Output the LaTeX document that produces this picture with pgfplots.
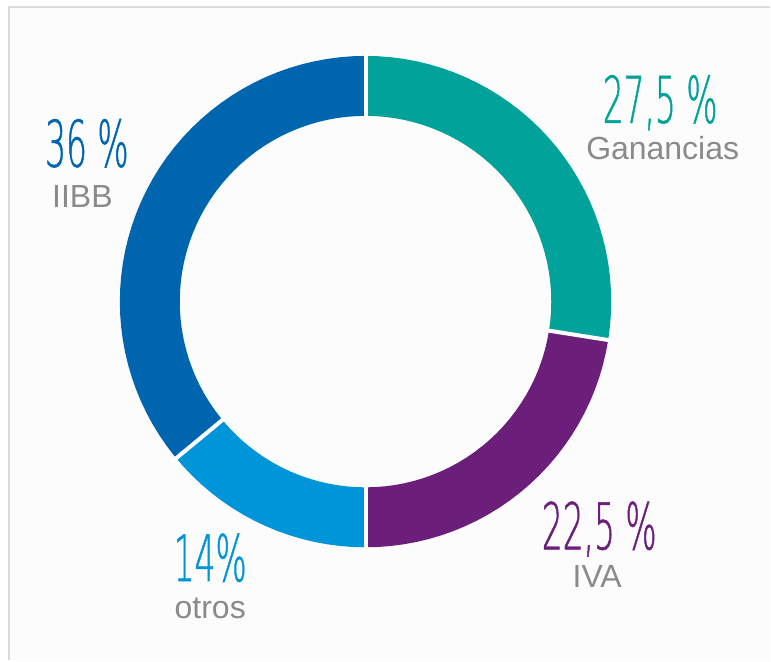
\documentclass[border=0pt]{standalone}
\usepackage{pgfplots}
\pgfplotsset{compat=1.18}
\usepackage{fontspec}
\setmainfont{Liberation Sans}
\newfontfamily\cond[FakeStretch=0.51, FakeBold=0.7]{DejaVu Sans ExtraLight}
\definecolor{cIIBB}{HTML}{0065AF}
\definecolor{cGan}{HTML}{00A29A}
\definecolor{cIVA}{HTML}{6B1F7B}
\definecolor{cOtros}{HTML}{0095D8}
\definecolor{cGray}{HTML}{8A8A8A}
\definecolor{cFrame}{HTML}{DADADA}
\begin{document}
\begin{tikzpicture}
\begin{axis}[
  scale only axis, width=771pt, height=661pt,
  xmin=-366, xmax=405, ymin=-359, ymax=302,
  hide axis, clip=false, data cs=polar,
]
\fill[white] (axis cs:-366,-359) rectangle (axis cs:405,302);
\fill[black!1] (axis cs:-357,-359) rectangle (axis cs:405,295);
\draw[cFrame, line width=2pt] (axis cs:-357,-359) -- (axis cs:-357,295) -- (axis cs:405,295);
% Ganancias 27.5 %
\addplot[cGan, line width=60pt, line cap=butt, no markers] coordinates {
(90,216) (87,216) (84,216) (81,216) (78,216) (75,216) (72,216) (69,216) (66,216) (63,216)
(60,216) (57,216) (54,216) (51,216) (48,216) (45,216) (42,216) (39,216) (36,216) (33,216)
(30,216) (27,216) (24,216) (21,216) (18,216) (15,216) (12,216) (9,216) (6,216) (3,216)
(0,216) (-3,216) (-6,216) (-9,216)};
% IVA 22.5 %
\addplot[cIVA, line width=60pt, line cap=butt, no markers] coordinates {
(-9,216) (-12,216) (-15,216) (-18,216) (-21,216) (-24,216) (-27,216) (-30,216) (-33,216)
(-36,216) (-39,216) (-42,216) (-45,216) (-48,216) (-51,216) (-54,216) (-57,216) (-60,216)
(-63,216) (-66,216) (-69,216) (-72,216) (-75,216) (-78,216) (-81,216) (-84,216) (-87,216) (-90,216)};
% otros 14 %
\addplot[cOtros, line width=60pt, line cap=butt, no markers] coordinates {
(-90,216) (-93,216) (-96,216) (-99,216) (-102,216) (-105,216) (-108,216) (-111,216) (-114,216)
(-117,216) (-120,216) (-123,216) (-126,216) (-129,216) (-132,216) (-135,216) (-138,216) (-140.4,216)};
% IIBB 36 %
\addplot[cIIBB, line width=60pt, line cap=butt, no markers] coordinates {
(-140.4,216) (-141,216) (-144,216) (-147,216) (-150,216) (-153,216) (-156,216) (-159,216)
(-162,216) (-165,216) (-168,216) (-171,216) (-174,216) (-177,216) (-180,216) (-183,216)
(-186,216) (-189,216) (-192,216) (-195,216) (-198,216) (-201,216) (-204,216) (-207,216)
(-210,216) (-213,216) (-216,216) (-219,216) (-222,216) (-225,216) (-228,216) (-231,216)
(-234,216) (-237,216) (-240,216) (-243,216) (-246,216) (-249,216) (-252,216) (-255,216)
(-258,216) (-261,216) (-264,216) (-267,216) (-270,216)};
% white separators
\addplot[white, line width=4pt, no markers] coordinates {(90,180) (90,252)};
\addplot[white, line width=4pt, no markers] coordinates {(-9,180) (-9,252)};
\addplot[white, line width=4pt, no markers] coordinates {(-90,180) (-90,252)};
\addplot[white, line width=4pt, no markers] coordinates {(-140.4,180) (-140.4,252)};
% labels
\tikzset{big/.style={anchor=base, font=\cond\fontsize{64.5}{64.5}\selectfont, inner sep=0pt, text depth=0pt},
         small/.style={anchor=base, text=cGray, font=\fontsize{32}{32}\selectfont, inner sep=0pt}}
\node[big, text=cIIBB] at (axis cs:-279,135) {36 \%};
\node[small] at (axis cs:-283.5,94) {IIBB};
\node[big, text=cGan] at (axis cs:295,179) {27,5 \%};
\node[small] at (axis cs:297.5,142) {Ganancias};
\node[big, text=cIVA] at (axis cs:234,-248) {22,5 \%};
\node[small] at (axis cs:232,-286) {IVA};
\node[big, text=cOtros] at (axis cs:-155.5,-280) {14\%};
\node[small] at (axis cs:-155.5,-317) {otros};
\end{axis}
\end{tikzpicture}
\end{document}
